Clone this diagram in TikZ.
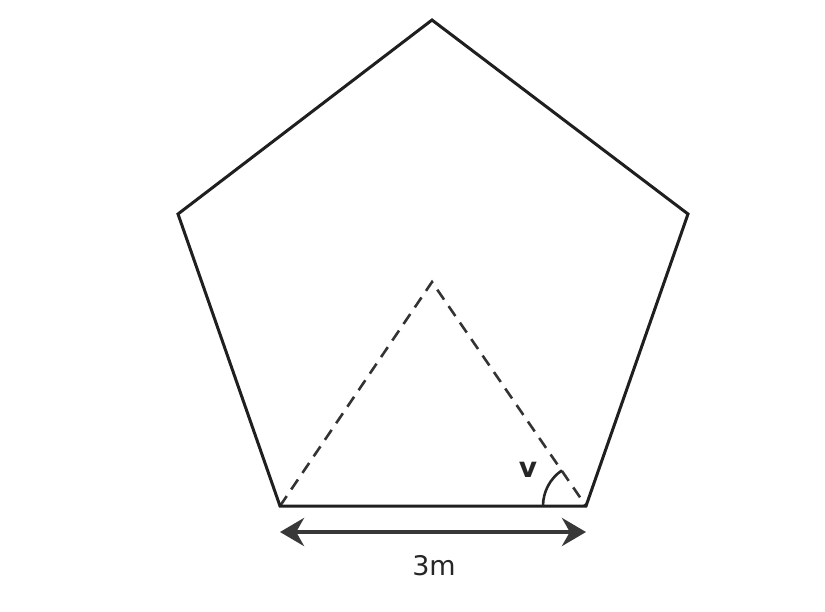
\documentclass[tikz,border=0pt]{standalone}
\usepackage{fontspec}
\setmainfont{DejaVu Sans}
\usetikzlibrary{arrows.meta,calc}
\begin{document}
\begin{tikzpicture}[x=1pt,y=-1pt,
  edge/.style={line width=3pt,draw=black!88,line join=miter},
  dashline/.style={line width=2.6pt,draw=black!80,dash pattern=on 12pt off 8pt},
  dim/.style={line width=4pt,draw=black!78,{Stealth[length=24pt,width=28pt]}-{Stealth[length=24pt,width=28pt]}},
  lbl/.style={font=\fontsize{27}{30}\selectfont,text=black!85}]
\useasboundingbox (0,0) rectangle (825,611);
\coordinate (T) at (432,20);
\coordinate (UL) at (178,214);
\coordinate (UR) at (688,214);
\coordinate (LL) at (280,506);
\coordinate (LR) at (586,506);
\coordinate (C) at (432,282);
\coordinate (AL) at (280,532);
\coordinate (AR) at (586,532);
\draw[dashline] (LL) -- (C) -- (LR);
\draw[edge] (T) -- (UR) -- (LR) -- (LL) -- (UL) -- cycle;
\draw[line width=2.6pt,draw=black!85] ($(LR)+(-43,0)$) arc[start angle=180,end angle=236,radius=43];
\node[font=\bfseries\fontsize{28}{30}\selectfont,text=black!85] (v) at (528,470) {v};
\draw[dim] (AL) -- (AR);
\node[lbl] (len) at (434,566) {3m};
\end{tikzpicture}
\end{document}
